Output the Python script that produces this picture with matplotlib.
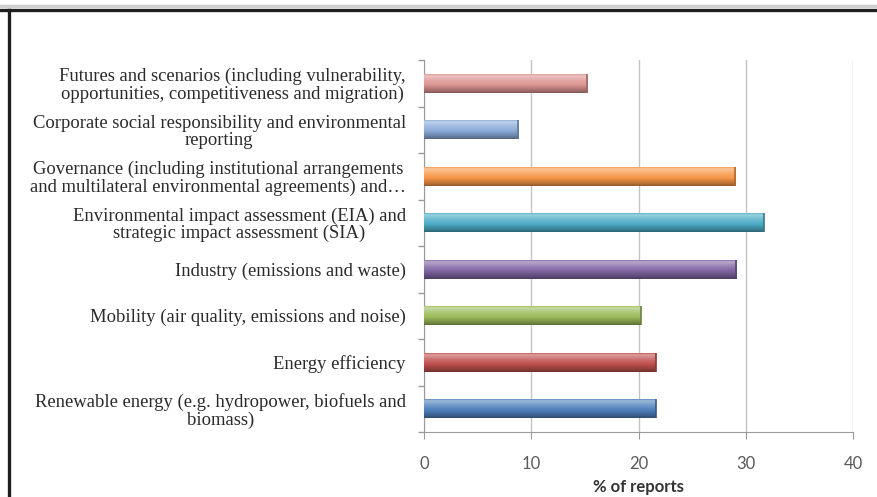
import numpy as np
import matplotlib
matplotlib.use("Agg")
import matplotlib.pyplot as plt
from matplotlib.colors import to_rgb
from matplotlib.lines import Line2D

# data (bottom to top)
categories = [
    "Renewable energy (e.g. hydropower, biofuels and\nbiomass)",
    "Energy efficiency",
    "Mobility (air quality, emissions and noise)",
    "Industry (emissions and waste)",
    "Environmental impact assessment (EIA) and\nstrategic impact assessment (SIA)",
    "Governance (including institutional arrangements\nand multilateral environmental agreements) and\u2026",
    "Corporate social responsibility and environmental\nreporting",
    "Futures and scenarios (including vulnerability,\nopportunities, competitiveness and migration)",
]
values = [21.6, 21.6, 20.2, 29.1, 31.7, 29.0, 8.8, 15.2]
colors = ["#4f81bd", "#c0504d", "#9bbb59", "#8064a2", "#4bacc6", "#f79646", "#8aaad8", "#dc9492"]
xticks = [0, 10, 20, 30, 40]


def shade(c, t):
    # vertical gradient like the old excel bars: light top, darker bottom
    c = np.array(to_rgb(c))
    stops = [(0.0, 0.85), (0.12, 1.45), (0.35, 1.2), (0.6, 1.0), (0.9, 0.72), (1.0, 0.6)]
    xs = [s[0] for s in stops]
    fs = [s[1] for s in stops]
    f = np.interp(t, xs, fs)
    out = []
    for v in f:
        if v >= 1:
            out.append(c + (1 - c) * (v - 1))
        else:
            out.append(c * v)
    return np.clip(np.array(out), 0, 1)


fig = plt.figure(figsize=(8.77, 4.97), dpi=100)
ax = fig.add_axes([424 / 877, 1 - 432 / 497, (853 - 424) / 877, (432 - 60) / 497])

y = np.arange(len(categories))
h = 0.41
bars = ax.barh(y, values, height=h, color="none", edgecolor="none", zorder=3)

t = np.linspace(0, 1, 40)
for b, c in zip(bars, colors):
    grad = shade(c, t)[:, None, :]
    x0, y0 = b.get_x(), b.get_y()
    w, hh = b.get_width(), b.get_height()
    # row 0 (top of the gradient) goes to the top of the bar
    im = ax.imshow(grad, extent=[x0, x0 + w, y0, y0 + hh], aspect="auto",
                   origin="upper", interpolation="bilinear", zorder=3)
    im.set_clip_path(b)
    # darker right end cap
    ax.plot([x0 + w, x0 + w], [y0, y0 + hh], color=np.array(to_rgb(c)) * 0.7,
            lw=1.2, zorder=4, solid_capstyle="butt")

ax.set_xlim(0, 40)
ax.set_ylim(-0.5, len(categories) - 0.5)
ax.set_xticks(xticks)
ax.set_yticks(y)
ax.set_yticklabels(categories, family="Liberation Serif", fontsize=13.4,
                   color="#2a2a2a", multialignment="center", linespacing=1.02)
ax.set_yticks(np.arange(-0.5, len(categories)), minor=True)
ax.tick_params(axis="y", which="major", length=0, pad=13)
ax.tick_params(axis="y", which="minor", length=4, color="#9a9a9a", width=1)
ax.tick_params(axis="x", length=5, color="#9a9a9a", pad=12, labelsize=12,
               labelcolor="#5a5a5a")
for lab in ax.get_xticklabels():
    lab.set_family("Lato")

ax.grid(axis="x", color="#c4c4c4", lw=1, zorder=0)
ax.set_axisbelow(True)
for s in ["top", "right"]:
    ax.spines[s].set_visible(False)
ax.spines["left"].set_color("#9a9a9a")
ax.spines["bottom"].set_color("#9a9a9a")

ax.set_xlabel("% of reports", family="Lato", fontsize=12, fontweight="bold",
              color="#333333", labelpad=5)

# scan frame
fig.add_artist(Line2D([0, 1], [1 - 9.5 / 497] * 2, color="#1e1e1e", lw=2.4,
                      transform=fig.transFigure))
fig.add_artist(Line2D([0, 1], [1 - 6 / 497] * 2, color="#cfcfcf", lw=2.5,
                      transform=fig.transFigure))
fig.add_artist(Line2D([8.5 / 877] * 2, [0, 1 - 9.5 / 497], color="#1e1e1e", lw=2.4,
                      transform=fig.transFigure))

fig.savefig("out.png", dpi=100)
